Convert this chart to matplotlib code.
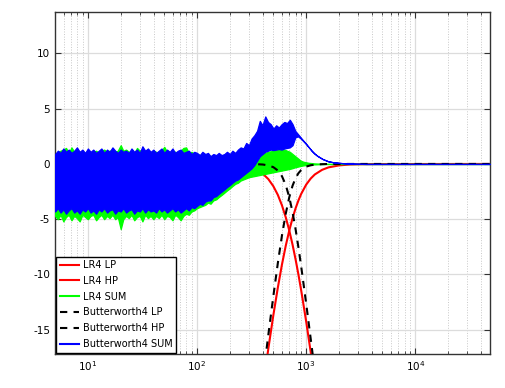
import numpy as np
import matplotlib
matplotlib.use("Agg")
import matplotlib.pyplot as plt
from matplotlib.lines import Line2D
from matplotlib.ticker import LogLocator, NullFormatter

plt.rcParams["font.family"] = ["DejaVu Sans"]
plt.rcParams["axes.unicode_minus"] = False

# 滤波器响应 (dB)
filt_freq = [5, 100, 200, 300, 350, 400, 450, 500, 550, 600, 650, 700, 750, 800,
             850, 900, 1000, 1100, 1200, 1400, 1600, 2000, 2500, 3000, 4000, 48000]
lr4_lp = [0, 0, -0.06, -0.29, -0.53, -0.88, -1.37, -2.01, -2.80, -3.75, -4.83, -6.02, -7.30,
          -8.65, -10.03, -11.44, -14.26, -17.02, -19.68, -24.6, -29.0, -36.6, -44.3, -50.6,
          -60.6, -150]
lr4_hp = [-150, -67.6, -43.6, -29.7, -24.6, -20.3, -16.72, -13.70, -11.19, -9.10, -7.40,
          -6.02, -4.91, -4.01, -3.29, -2.71, -1.87, -1.32, -0.95, -0.53, -0.31, -0.13, -0.05,
          -0.03, -0.01, 0]
bw4_lp = [0, 0, 0, -0.01, -0.02, -0.05, -0.13, -0.29, -0.59, -1.11, -1.91, -3.01, -4.37,
          -5.92, -7.58, -9.28, -12.64, -15.82, -18.78, -24.1, -28.7, -36.5, -44.2, -50.6,
          -60.6, -150]
bw4_hp = [-150, -67.6, -43.5, -29.4, -24.1, -19.5, -15.47, -11.98, -8.97, -6.47, -4.49,
          -3.01, -1.97, -1.28, -0.83, -0.55, -0.24, -0.12, -0.06, -0.02, 0, 0, 0, 0, 0, 0]

# 求和曲线 (噪声带的上下包络)
band_freq = [5.01, 5.31, 5.62, 5.96, 6.31, 6.68, 7.08, 7.50, 7.94, 8.41, 8.91, 9.44,
             10, 10.6, 11.2, 11.9, 12.6, 13.3, 14.1, 15.0, 15.8, 16.8, 17.8, 18.8,
             20.0, 21.1, 22.4, 23.7, 25.1, 26.6, 28.2, 29.9, 31.6, 33.5, 35.5, 37.6,
             39.8, 42.2, 44.7, 47.3, 50.1, 53.1, 56.2, 59.6, 63.1, 66.8, 70.8, 75.0,
             79.4, 84.1, 89.1, 94.4,
             100, 106, 112, 119, 126, 133, 141, 150, 158, 168, 178, 188,
             200, 211, 224, 237, 251, 266, 282, 299, 316, 335, 355, 376,
             398, 422, 447, 473, 501, 531, 562, 596, 631, 668, 708, 750,
             794, 841, 891, 944, 1000,
             1059, 1122, 1189, 1259, 1334, 1413, 1585, 1778, 1995, 2239, 2512, 2818, 3162,
             3548, 3981, 48000]
bw_sum_hi = [0.9, 1.2, 1.0, 1.4, 1.1, 1.3, 1.0, 1.2, 1.5, 1.1, 1.3, 1.0,
             1.4, 1.1, 1.3, 1.0, 1.2, 1.4, 1.0, 1.3, 1.1, 1.5, 1.2, 1.0,
             1.3, 1.1, 1.2, 1.0, 1.4, 1.1, 1.3, 1.0, 1.6, 1.2, 1.4, 1.1,
             1.3, 1.0, 1.2, 1.4, 1.0, 1.3, 1.1, 1.4, 1.0, 1.2, 1.3, 1.0,
             1.1, 1.2, 0.9, 1.1,
             1.0, 0.8, 1.1, 0.9, 1.0, 0.7, 0.9, 0.8, 1.0, 0.8, 0.9, 1.1,
             0.9, 1.2, 1.0, 1.3, 1.5, 1.4, 1.9, 1.7, 2.3, 2.6, 3.0, 3.9,
             3.5, 4.3, 3.8, 3.6, 3.2, 3.5, 3.3, 3.6, 3.8, 3.7, 4.0, 3.6,
             3.0, 2.7, 2.4, 2.1, 1.8,
             1.5, 1.2, 0.95, 0.75, 0.6, 0.45, 0.25, 0.15, 0.1, 0.06, 0.04, 0.02, 0.01,
             0, 0, 0]
bw_sum_lo = [-4.3, -4.0, -4.4, -4.1, -4.5, -4.2, -4.0, -4.4, -4.2, -4.5, -4.1, -4.3,
             -4.0, -4.4, -4.2, -4.5, -4.1, -4.3, -4.0, -4.4, -4.2, -4.1, -4.5, -4.2,
             -4.3, -4.0, -4.4, -4.2, -4.1, -4.5, -4.2, -4.3, -4.0, -4.4, -4.1, -4.3,
             -4.2, -4.4, -4.0, -4.3, -4.1, -4.4, -4.2, -4.0, -4.3, -4.1, -4.4, -4.2,
             -4.0, -4.2, -3.9, -4.0,
             -3.8, -3.6, -3.7, -3.4, -3.3, -3.3, -3.0, -2.9, -2.7, -2.5, -2.3, -2.1,
             -1.9, -1.7, -1.5, -1.4, -1.2, -1.0, -0.8, -0.6, -0.4, -0.1, 0.3, 0.7,
             0.9, 1.1, 1.2, 1.3, 1.25, 1.3, 1.35, 1.3, 1.4, 1.45, 1.5, 1.7,
             2.4, 2.5, 2.3, 2.05, 1.8,
             1.5, 1.2, 0.95, 0.75, 0.6, 0.45, 0.25, 0.15, 0.1, 0.06, 0.04, 0.02, 0.01,
             0, 0, 0]
lr_sum_hi = [0.8, 1.1, 1.2, 1.3, 1.45, 1.0, 1.5, 1.1, 1.2, 1.0, 1.2, 0.9,
             1.2, 1.0, 1.1, 1.2, 1.0, 1.2, 1.3, 1.1, 1.2, 1.3, 1.1, 1.2,
             1.7, 1.2, 1.3, 1.1, 1.2, 1.0, 1.45, 1.2, 1.3, 1.1, 1.2, 1.0,
             1.2, 1.1, 1.0, 1.2, 1.55, 1.1, 1.0, 1.2, 1.1, 1.0, 1.2, 1.45,
             1.5, 1.0, 1.1, 0.9,
             0.9, 0.8, 0.9, 0.8, 0.8, 0.7, 0.8, 0.7, 0.8, 0.7, 0.8, 0.8,
             0.8, 0.9, 0.9, 1.0, 0.9, 0.8, 0.6, 0.5, 0.3, 0.3, 0.4, 0.6,
             0.9, 1.0, 1.1, 1.15, 1.2, 1.25, 1.3, 1.25, 1.3, 1.2, 1.1, 0.9,
             0.7, 0.5, 0.3, 0.2, 0.15,
             0.1, 0.08, 0.05, 0.04, 0.03, 0.02, 0, 0, 0, 0, 0, 0, 0,
             0, 0, 0]
lr_sum_lo = [-4.7, -5.0, -4.6, -5.2, -4.8, -4.6, -5.1, -4.7, -4.9, -5.2, -4.6, -4.8,
             -5.0, -4.7, -4.6, -5.1, -4.8, -4.6, -5.0, -4.7, -4.9, -4.6, -5.0, -4.8,
             -5.9, -5.0, -4.7, -4.9, -4.6, -5.1, -4.8, -4.7, -5.2, -4.6, -4.9, -4.7,
             -5.0, -4.7, -4.9, -4.6, -5.0, -4.7, -4.8, -5.1, -4.6, -4.8, -5.1, -4.7,
             -4.5, -4.6, -4.3, -4.2,
             -4.0, -3.9, -3.8, -3.7, -3.5, -3.6, -3.3, -3.2, -3.0, -2.8, -2.6, -2.4,
             -2.2, -2.0, -1.8, -1.7, -1.5, -1.4, -1.3, -1.2, -1.15, -1.1, -1.05, -1.0,
             -0.95, -0.9, -0.85, -0.8, -0.75, -0.7, -0.65, -0.6, -0.55, -0.5, -0.45, -0.38,
             -0.3, -0.24, -0.18, -0.13, -0.1,
             -0.07, -0.05, -0.04, -0.03, -0.02, -0.01, 0, 0, 0, 0, 0, 0, 0,
             0, 0, 0]

labels = ["LR4 LP", "LR4 HP", "LR4 SUM", "Butterworth4 LP", "Butterworth4 HP",
          "Butterworth4 SUM"]

fig = plt.figure(figsize=(5.06, 3.88), dpi=100)
ax = fig.add_axes([0.1087, 0.0876, 0.8591, 0.8814])

dash = (0, (3.5, 3))
ax.plot(filt_freq, lr4_lp, color="red", lw=1.5, zorder=3)
ax.plot(filt_freq, lr4_hp, color="red", lw=1.5, zorder=3)
ax.fill_between(band_freq, lr_sum_lo, lr_sum_hi, facecolor="#00ff00",
                edgecolor="#00ff00", lw=0.9, zorder=4)
ax.plot(filt_freq, bw4_lp, color="black", lw=1.5, ls=dash, zorder=5)
ax.plot(filt_freq, bw4_hp, color="black", lw=1.5, ls=dash, zorder=5)
ax.fill_between(band_freq, bw_sum_lo, bw_sum_hi, facecolor="#0000ff",
                edgecolor="#0000ff", lw=0.9, zorder=6)

ax.set_xscale("log")
ax.set_xlim(5, 48000)
ax.set_ylim(-17.2, 13.75)
ax.set_yticks([-15, -10, -5, 0, 5, 10])
ax.xaxis.set_minor_locator(LogLocator(base=10, subs=np.arange(2, 10)))
ax.xaxis.set_minor_formatter(NullFormatter())

ax.grid(True, which="major", color="#dcdcdc", lw=0.9, ls="-", zorder=0)
ax.grid(True, which="minor", axis="x", color="#c8c8c8", lw=0.7, ls=":", zorder=0)
ax.set_axisbelow(True)

ax.tick_params(which="both", direction="in", top=True, right=True, labelsize=7.5,
               colors="#333333", labelcolor="black")
ax.tick_params(which="major", length=4, width=0.8)
ax.tick_params(which="minor", length=2.5, width=0.6)
for s in ax.spines.values():
    s.set_color("#333333")
    s.set_linewidth(1.0)

handles = [Line2D([], [], color="red", lw=1.5),
           Line2D([], [], color="red", lw=1.5),
           Line2D([], [], color="#00ff00", lw=1.5),
           Line2D([], [], color="black", lw=1.5, ls=dash),
           Line2D([], [], color="black", lw=1.5, ls=dash),
           Line2D([], [], color="#0000ff", lw=1.5)]
leg = ax.legend(handles, labels, loc="lower left", fontsize=7, fancybox=False,
                framealpha=1, edgecolor="black", borderaxespad=0.15, handlelength=2.0,
                handletextpad=0.4, labelspacing=0.6, borderpad=0.35)
leg.get_frame().set_linewidth(1.0)
leg.set_zorder(10)

fig.savefig("out.png", dpi=100)
